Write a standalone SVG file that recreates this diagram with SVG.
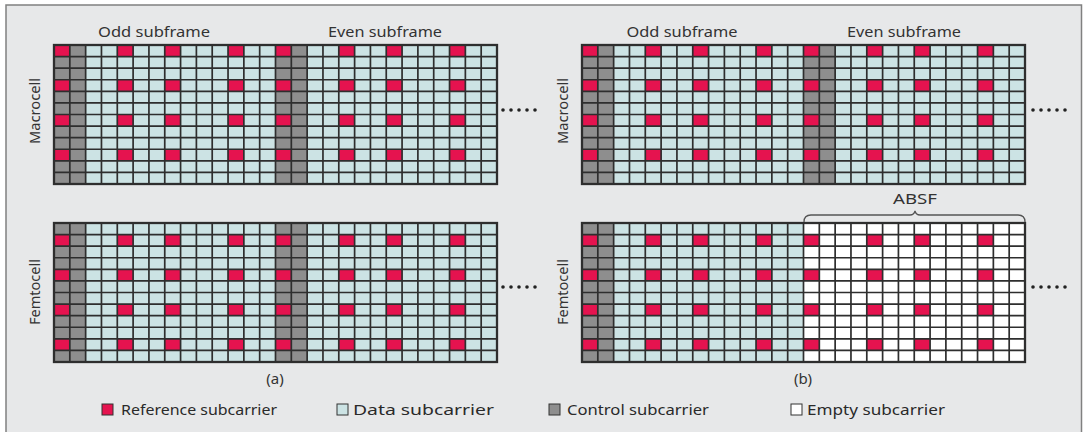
<svg xmlns="http://www.w3.org/2000/svg" xmlns:xlink="http://www.w3.org/1999/xlink" width="1084" height="432" viewBox="0 0 1084 432">
<style>
.bg{fill:#e7e8e9}
.frame{fill:none;stroke:#808080;stroke-width:1.5}
.data{fill:#cce3e4}
.ctrl{fill:#8e8e8e}
.ref{fill:#e5134f}
.empty{fill:#ffffff}
.gl{fill:none;stroke:#2e2e2e;stroke-width:1.7}
.border{fill:none;stroke:#2e2e2e;stroke-width:2.3}
.hdr{font-family:"Noto Sans","Liberation Sans",sans-serif;font-size:15px;fill:#333;text-anchor:middle}
.side{font-family:"Noto Sans","Liberation Sans",sans-serif;font-size:15px;fill:#333;text-anchor:middle}
.cap{font-family:"Noto Sans","Liberation Sans",sans-serif;font-size:15px;fill:#333;text-anchor:middle}
.leg{font-family:"Noto Sans","Liberation Sans",sans-serif;font-size:15px;fill:#2a2a2a}
.legsq{stroke:#333;stroke-width:1}
.dot{fill:#222}
.brace{fill:none;stroke:#555;stroke-width:1.3}
</style>
<defs>
<path id="gl" class="gl" d="M15.82 0V139M31.64 0V139M47.46 0V139M63.29 0V139M79.11 0V139M94.93 0V139M110.75 0V139M126.57 0V139M142.39 0V139M158.21 0V139M174.04 0V139M189.86 0V139M205.68 0V139M221.5 0V139M237.32 0V139M253.14 0V139M268.96 0V139M284.79 0V139M300.61 0V139M316.43 0V139M332.25 0V139M348.07 0V139M363.89 0V139M379.71 0V139M395.54 0V139M411.36 0V139M427.18 0V139M0 11.58H443M0 23.17H443M0 34.75H443M0 46.33H443M0 57.92H443M0 69.5H443M0 81.08H443M0 92.67H443M0 104.25H443M0 115.83H443M0 127.42H443"/>
<g id="ctrlcols">
<rect class="ctrl" x="0" y="0" width="31.64" height="139"/>
<rect class="ctrl" x="221.5" y="0" width="31.64" height="139"/>
</g>
<g id="refrow">
<rect class="ref" x="0" y="0" width="15.82" height="11.58"/>
<rect class="ref" x="63.29" y="0" width="15.82" height="11.58"/>
<rect class="ref" x="110.75" y="0" width="15.82" height="11.58"/>
<rect class="ref" x="174.04" y="0" width="15.82" height="11.58"/>
<rect class="ref" x="221.5" y="0" width="15.82" height="11.58"/>
<rect class="ref" x="284.79" y="0" width="15.82" height="11.58"/>
<rect class="ref" x="332.25" y="0" width="15.82" height="11.58"/>
<rect class="ref" x="395.54" y="0" width="15.82" height="11.58"/>
</g>
<g id="refM">
<use xlink:href="#refrow" y="0"/>
<use xlink:href="#refrow" y="34.75"/>
<use xlink:href="#refrow" y="69.5"/>
<use xlink:href="#refrow" y="104.25"/>
</g>
<g id="refF">
<use xlink:href="#refrow" y="11.58"/>
<use xlink:href="#refrow" y="46.33"/>
<use xlink:href="#refrow" y="81.08"/>
<use xlink:href="#refrow" y="115.83"/>
</g>
<g id="dots">
<circle class="dot" cx="0" cy="0" r="1.8"/>
<circle class="dot" cx="8" cy="0" r="1.8"/>
<circle class="dot" cx="16" cy="0" r="1.8"/>
<circle class="dot" cx="24" cy="0" r="1.8"/>
<circle class="dot" cx="32" cy="0" r="1.8"/>
</g>
</defs>

<rect x="0" y="0" width="1084" height="432" fill="#ffffff"/>
<rect class="bg" x="6" y="5" width="1075.5" height="430"/>
<rect class="frame" x="6" y="5" width="1075.5" height="430"/>

<!-- Panel (a) -->
<g id="a-headers">
<text class="hdr" x="154" y="37" textLength="112" lengthAdjust="spacingAndGlyphs">Odd subframe</text>
<text class="hdr" x="385" y="37" textLength="114" lengthAdjust="spacingAndGlyphs">Even subframe</text>
</g>
<g id="a-macro-label"><text class="side" transform="translate(40,111) rotate(-90)" textLength="66" lengthAdjust="spacingAndGlyphs">Macrocell</text></g>
<g id="a-femto-label"><text class="side" transform="translate(40,292) rotate(-90)" textLength="66" lengthAdjust="spacingAndGlyphs">Femtocell</text></g>

<g id="a-macro" transform="translate(54,45)">
<rect class="data" x="0" y="0" width="443" height="139"/>
<use xlink:href="#ctrlcols"/>
<use xlink:href="#refM"/>
<use xlink:href="#gl"/>
<rect class="border" x="0" y="0" width="443" height="139"/>
</g>
<g id="a-femto" transform="translate(54,223)">
<rect class="data" x="0" y="0" width="443" height="139"/>
<use xlink:href="#ctrlcols"/>
<use xlink:href="#refF"/>
<use xlink:href="#gl"/>
<rect class="border" x="0" y="0" width="443" height="139"/>
</g>
<g id="a-dots">
<use xlink:href="#dots" x="503" y="110"/>
<use xlink:href="#dots" x="503" y="287"/>
</g>
<g id="a-caption"><text class="cap" x="275" y="384">(a)</text></g>

<!-- Panel (b) -->
<g id="b-headers">
<text class="hdr" x="682" y="37" textLength="111" lengthAdjust="spacingAndGlyphs">Odd subframe</text>
<text class="hdr" x="904" y="37" textLength="114" lengthAdjust="spacingAndGlyphs">Even subframe</text>
</g>
<g id="b-macro-label"><text class="side" transform="translate(568,111) rotate(-90)" textLength="66" lengthAdjust="spacingAndGlyphs">Macrocell</text></g>
<g id="b-femto-label"><text class="side" transform="translate(568,292) rotate(-90)" textLength="66" lengthAdjust="spacingAndGlyphs">Femtocell</text></g>

<g id="b-macro" transform="translate(582,45)">
<rect class="data" x="0" y="0" width="443" height="139"/>
<use xlink:href="#ctrlcols"/>
<use xlink:href="#refM"/>
<use xlink:href="#gl"/>
<rect class="border" x="0" y="0" width="443" height="139"/>
</g>
<g id="b-femto" transform="translate(582,223)">
<rect class="data" x="0" y="0" width="221.5" height="139"/>
<rect class="empty" x="221.5" y="0" width="221.5" height="139"/>
<rect class="ctrl" x="0" y="0" width="31.64" height="139"/>
<use xlink:href="#refF"/>
<use xlink:href="#gl"/>
<rect class="border" x="0" y="0" width="443" height="139"/>
</g>
<g id="b-absf">
<path class="brace" d="M804 222Q804 215 811 215H910Q914 215 915 211Q916 215 920 215H1018Q1025 215 1025 222"/>
<text class="hdr" x="915" y="204" textLength="44" lengthAdjust="spacingAndGlyphs">ABSF</text>
</g>
<g id="b-dots">
<use xlink:href="#dots" x="1033" y="110"/>
<use xlink:href="#dots" x="1033" y="287"/>
</g>
<g id="b-caption"><text class="cap" x="803" y="384">(b)</text></g>

<!-- Legend -->
<g id="legend">
<rect class="legsq ref" x="102" y="404" width="11" height="11"/>
<text class="leg" x="121" y="415" textLength="156" lengthAdjust="spacingAndGlyphs">Reference subcarrier</text>
<rect class="legsq data" x="337" y="404" width="11" height="11"/>
<text class="leg" x="353" y="415" textLength="141" lengthAdjust="spacingAndGlyphs">Data subcarrier</text>
<rect class="legsq ctrl" x="549" y="404" width="11" height="11"/>
<text class="leg" x="567" y="415" textLength="142" lengthAdjust="spacingAndGlyphs">Control subcarrier</text>
<rect class="legsq empty" x="791" y="404" width="11" height="11"/>
<text class="leg" x="807" y="415" textLength="138" lengthAdjust="spacingAndGlyphs">Empty subcarrier</text>
</g>
</svg>
